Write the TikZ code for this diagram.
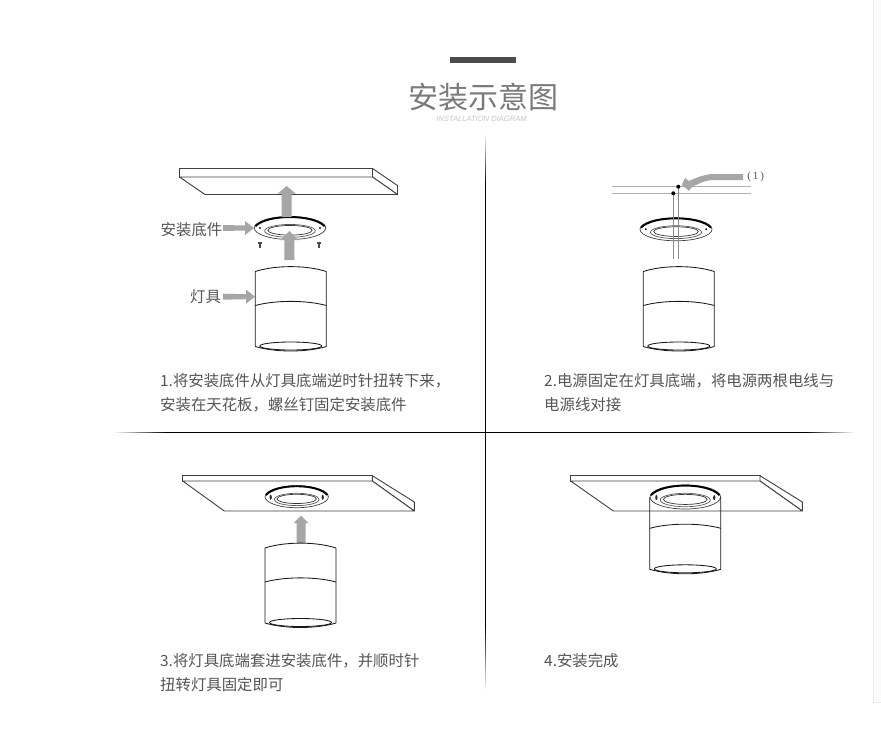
\documentclass[tikz,border=0pt]{standalone}
\usepackage{fontspec}
\setmainfont{Noto Sans CJK SC}
\newfontfamily\latinf{Liberation Sans}
\newfontfamily\serif{Liberation Serif}
\definecolor{arrowgray}{HTML}{A6A6A6}
\definecolor{txt}{HTML}{555555}
\tikzset{
  x=1pt,y=-1pt,
  outline/.style={draw=black!90,line width=.85pt,line join=round},
  board/.style={draw=black!75,line width=.9pt,line join=round,fill=white},
  grayarrow/.style={fill=arrowgray,draw=none},
  body/.style={anchor=west,inner sep=0pt,text=txt,font=\fontsize{15.4}{15.4}\selectfont},
  wire/.style={draw=black!45,line width=.9pt},
  divider/.style={line width=1.4pt,line cap=butt},
}
% board: left, top, right, bottom-left x, bottom-right x, strip bottom, bottom
\newcommand\boardshape[7]{%
  \draw[board] (#1,#2) -- (#3,#2) -- (#3,#6) -- (#1,#6) -- cycle;
  \draw[board] (#3,#2) -- (#5,#7-9) -- (#5,#7) -- (#3,#6) -- cycle;
  \draw[board] (#1,#6) -- (#3,#6) -- (#5,#7) -- (#4,#7) -- cycle;
}
% lamp: left x, corner y, draw top (1/0)
\newcommand\lampshape[3]{%
  \begin{scope}[shift={(#1,#2)}]
    \ifnum#3=1
      \draw[outline,fill=white] (0,0) .. controls (20,-6.5) and (51,-6.5) .. (71,0) -- (71,75) .. controls (51,81) and (20,81) .. (0,75) -- cycle;
    \else
      \draw[outline] (0,3) -- (0,75) .. controls (20,81) and (51,81) .. (71,75) -- (71,3);
    \fi
    \draw[outline] (0,34) .. controls (20,28.5) and (51,28.5) .. (71,34);
    \draw[outline] (35.5,74.5) ellipse [x radius=31pt,y radius=4pt];
  \end{scope}}
% ring: cx, cy, rx, ry, mounted screw marks (1/0)
\newcommand\ringshape[5]{%
  \begin{scope}[shift={(#1,#2)},x=#3pt,y=-#4pt]
    \draw[draw=black!75,line width=.7pt,fill=white] (0,0) circle [x radius=#3pt,y radius=#4pt];
    \draw[black,line width=1.9pt] (-.97,-.15) .. controls (-.65,-1.22) and (.65,-1.22) .. (.97,-.15);
    \draw[draw=black!65,line width=.7pt] (0,.25) circle [x radius=.71*#3pt,y radius=.56*#4pt];
    \draw[draw=black!80,line width=.7pt] (0,.2) circle [x radius=.62*#3pt,y radius=.42*#4pt];
    \ifnum#5=1
      \fill[black!85] (-.82,.05) circle [x radius=1.1pt,y radius=2.5pt];
      \fill[black!85] (.82,.05) circle [x radius=1.1pt,y radius=2.5pt];
    \else
      \fill[black!85] (-.84,0) circle [radius=1.1pt];
      \fill[black!85] (.84,0) circle [radius=1.1pt];
    \fi
  \end{scope}}
% vertical block arrow: x, tip y, head base y, head half, shaft half, end y
\newcommand\blockup[6]{%
  \fill[grayarrow] (#1,#2) -- (#1+#4,#3) -- (#1+#5,#3) -- (#1+#5,#6) -- (#1-#5,#6) -- (#1-#5,#3) -- (#1-#4,#3) -- cycle;}
\newcommand\blockright[3]{%
  \fill[grayarrow] (#1,#2-3) -- (#3-9,#2-2.5) -- (#3-9,#2-7) -- (#3,#2) -- (#3-9,#2+7) -- (#3-9,#2+2.5) -- (#1,#2+3) -- cycle;}
\newcommand\screwmark[2]{%
  \fill[black!70] (#1-2,#2-3) rectangle (#1+2,#2-1.5);
  \fill[black!70] (#1-.8,#2-2) rectangle (#1+.8,#2+3);}
\begin{document}
\begin{tikzpicture}
\useasboundingbox (0,0) rectangle (881,755);
\fill[white] (0,0) rectangle (881,755);
\fill[black!2] (874,0) rectangle (881,702);
\draw[black!8,line width=.6pt] (873.5,0) -- (873.5,702) -- (881,702);

% title
\fill[black!70] (450,57) rectangle (516,63);
\node[inner sep=0pt,text=black!52,font=\fontsize{30}{31}\selectfont] (title) at (483,97) {安装示意图};
\node[inner sep=0pt,text=black!22,font=\latinf\itshape\fontsize{7.6}{8}\selectfont] (subtitle) at (481.5,119) {INSTALLATION DIAGRAM};

% dividers: solid cross with stepped fades at the four ends
\draw[divider,black] (485.6,185) -- (485.6,625);
\draw[divider,black] (168,432.5) -- (805,432.5);
\foreach \i in {1,...,25}{
  \pgfmathsetmacro\pct{4*\i}
  \draw[divider,black!\pct] (485.6,135+2*\i-2) -- (485.6,135+2*\i);
  \draw[divider,black!\pct] (485.6,690-2.6*\i+2.6) -- (485.6,690-2.6*\i);
  \draw[divider,black!\pct] (115+2.12*\i-2.12,432.5) -- (115+2.12*\i,432.5);
  \draw[divider,black!\pct] (855-2*\i+2,432.5) -- (855-2*\i,432.5);
}

% step 1
\boardshape{179.5}{168.5}{372.5}{205}{397.5}{177}{194.5}
\ringshape{290}{228}{35.7}{11.5}{0}
\blockup{286.7}{186}{193.5}{9}{5}{217}
\blockup{289.3}{231}{240}{9}{5}{260}
\screwmark{260}{245}
\screwmark{319}{245}
\lampshape{255.3}{271.5}{1}
\blockright{223}{228}{254}
\blockright{223}{296.7}{255}
\node[body] (label1) at (160.5,230) {安装底件};
\node[body] (label2) at (190,296.5) {灯具};
\node[body] (t1a) at (160,381) {1.将安装底件从灯具底端逆时针扭转下来，};
\node[body] (t1b) at (160,405) {安装在天花板，螺丝钉固定安装底件};

% step 2
\draw[wire,black!30] (612,186.7) -- (750.7,186.7);
\draw[wire,black!30] (612,193.3) -- (750.7,193.3);
\ringshape{676}{229.3}{36}{11.5}{0}
\coordinate (w1) at (678.3,186.7);
\coordinate (w2) at (673.3,193.3);
\draw[wire] (w1) -- (678.3,259.3);
\draw[wire] (w2) -- (673.3,259.3);
\fill[black] (w1) circle [radius=2pt];
\fill[black] (w2) circle [radius=2pt];
\fill[grayarrow] (743,174) -- (743,180) -- (713,180) .. controls (704,180.5) and (698,184) .. (692,187) -- (689,190.7) -- (681.7,185) -- (685,178) -- (689,181) .. controls (698,177) and (704,174.5) .. (713,174) -- cycle;
\node[inner sep=0pt,text=txt,font=\serif\fontsize{11}{11}\selectfont] (mark1) at (755.7,176.5) {(\,1\,)};
\lampshape{643.3}{271.5}{1}
\node[body] (t2a) at (544,381) {2.电源固定在灯具底端，将电源两根电线与};
\node[body] (t2b) at (544,405) {电源线对接};

% step 3
\boardshape{182.7}{475.7}{372.3}{224.3}{414.3}{481}{511}
\ringshape{296.7}{496.7}{31.7}{11}{1}
\blockup{301}{515.7}{523}{7.5}{4.5}{543}
\lampshape{265}{548}{1}
\node[body] (t3a) at (160,661) {3.将灯具底端套进安装底件，并顺时针};
\node[body] (t3b) at (160,685) {扭转灯具固定即可};

% step 4
\boardshape{570.7}{475.7}{760}{613.3}{802.3}{481}{511}
\ringshape{685.3}{497}{35.3}{12}{1}
\lampshape{649.8}{494.3}{0}
\node[body] (t4) at (544,661) {4.安装完成};
\end{tikzpicture}
\end{document}
